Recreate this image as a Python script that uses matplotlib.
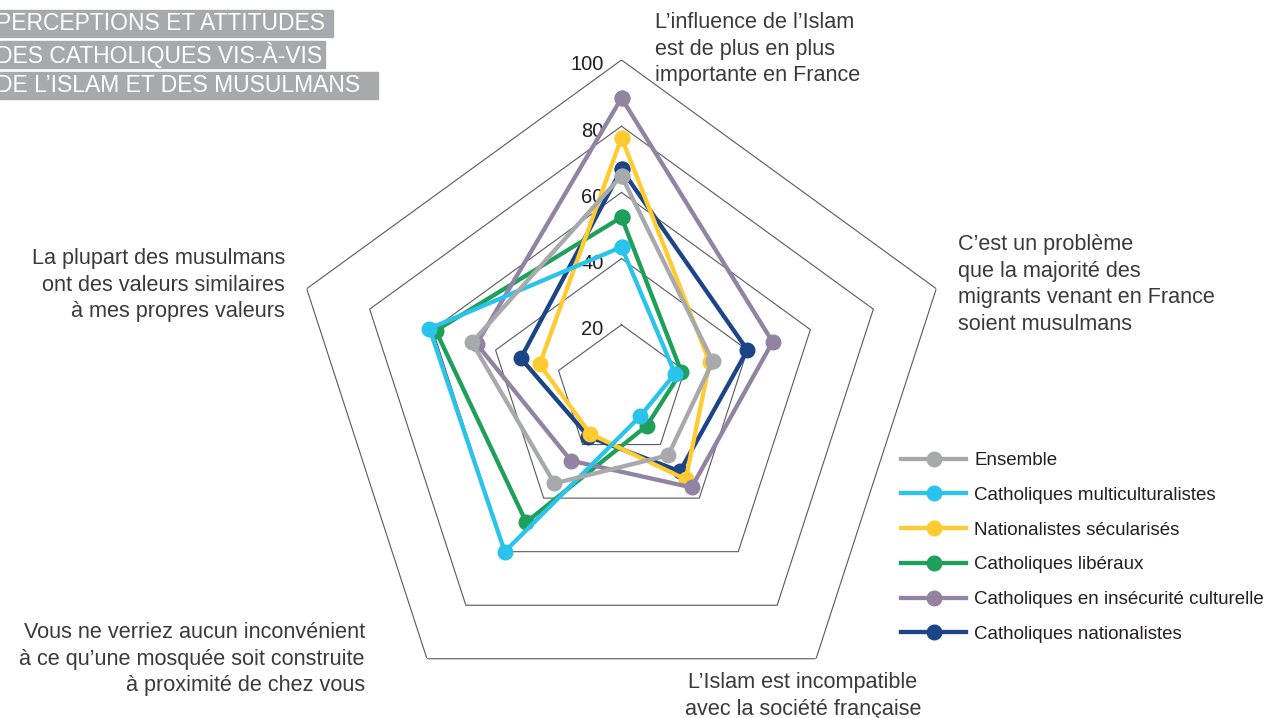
import matplotlib.pyplot as plt
import numpy as np
from matplotlib.patches import Rectangle
from matplotlib.lines import Line2D

# axes, clockwise from the top
axis_labels = [
    "L\u2019influence de l\u2019Islam\nest de plus en plus\nimportante en France",
    "C\u2019est un problème\nque la majorité des\nmigrants venant en France\nsoient musulmans",
    "L\u2019Islam est incompatible\navec la société française",
    "Vous ne verriez aucun inconvénient\nà ce qu\u2019une mosquée soit construite\nà proximité de chez vous",
    "La plupart des musulmans\nont des valeurs similaires\nà mes propres valeurs",
]

series_names = [
    "Ensemble",
    "Catholiques multiculturalistes",
    "Nationalistes sécularisés",
    "Catholiques libéraux",
    "Catholiques en insécurité culturelle",
    "Catholiques nationalistes",
]

ensemble = [65, 29, 24, 34.5, 47.5]
multiculturalistes = [43.5, 17, 9.5, 60, 61]
nationalistes_secularises = [76.5, 28, 33, 16, 26]
liberaux = [52.5, 19, 13, 49, 59]
insecurite = [88.5, 48, 36, 26, 46]
nationalistes = [67, 40, 30, 17, 32]

all_series = [ensemble, multiculturalistes, nationalistes_secularises,
              liberaux, insecurite, nationalistes]
colors = ["#A7A9AC", "#29C3EC", "#FFCB31", "#1FA05A", "#9283A3", "#1C4587"]
zorders = [8, 7, 5, 4, 6, 3]

ring_values = [20, 40, 60, 80, 100]

title_lines = ["PERCEPTIONS ET ATTITUDES", "DES CATHOLIQUES VIS-À-VIS",
               "DE L\u2019ISLAM ET DES MUSULMANS"]

plt.rcParams['font.family'] = ['Liberation Sans', 'DejaVu Sans']
W, H = 1273, 718
fig = plt.figure(figsize=(W / 100, H / 100), dpi=100)

cx, cy, R = 621.5, 391, 331
ax = fig.add_axes([(cx - R) / W, (H - cy - R) / H, 2 * R / W, 2 * R / H],
                  projection='polar')
ax.set_theta_offset(np.pi / 2)
ax.set_theta_direction(-1)
ax.set_ylim(0, 100)
ax.set_xticks([])
ax.set_yticks([])
ax.grid(False)
ax.spines['polar'].set_visible(False)
ax.patch.set_alpha(0)

n = len(axis_labels)
theta = np.linspace(0, 2 * np.pi, n, endpoint=False)
theta_c = np.append(theta, theta[0])

for v in ring_values:
    ax.plot(theta_c, [v] * (n + 1), color='#58595B', lw=0.8, zorder=1)
    ax.annotate(str(v), (0, v), xytext=(-13, -3.5), textcoords='offset points',
                ha='right', va='center', fontsize=14.5, color='#231F20')

for vals, name, c, z in zip(all_series, series_names, colors, zorders):
    ax.plot(theta_c, vals + vals[:1], color=c, lw=3.1, marker='o',
            markersize=10.5, label=name, zorder=z, clip_on=False)

# axis labels
txt = dict(fontsize=15.6, color='#3A3A3A', linespacing=1.35)
fig.text(655 / W, 1 - 12 / H, axis_labels[0], ha='left', va='top', **txt)
fig.text(958 / W, 1 - 234 / H, axis_labels[1], ha='left', va='top', **txt)
fig.text(803 / W, 1 - 672 / H, axis_labels[2], ha='center', va='top', **txt)
fig.text(365 / W, 1 - 622 / H, axis_labels[3], ha='right', va='top',
         multialignment='right', **txt)
fig.text(285 / W, 1 - 248 / H, axis_labels[4], ha='right', va='top',
         multialignment='right', **txt)

# title boxes
boxes = [(10, 37, 333), (41, 68, 325), (72, 99, 378)]
for line, (y0, y1, x1) in zip(title_lines, boxes):
    fig.patches.append(Rectangle((0, 1 - y1 / H), x1 / W, (y1 - y0) / H,
                                 transform=fig.transFigure, color='#A7A9AC',
                                 zorder=0))
    fig.text(-4 / W, 1 - (y0 + y1) / 2 / H, line, ha='left', va='center',
             fontsize=16.5, color='white')

handles = [Line2D([], [], color=c, lw=3.1, marker='o', markersize=10.5)
           for c in colors]
fig.legend(handles, series_names, loc='upper left',
           bbox_to_anchor=(901 / W, 1 - 452 / H), frameon=False,
           fontsize=13.5, handlelength=3.47, handletextpad=0.43,
           labelspacing=0.94, borderpad=0, borderaxespad=0,
           labelcolor='#231F20')

fig.savefig('out.png', dpi=100)
